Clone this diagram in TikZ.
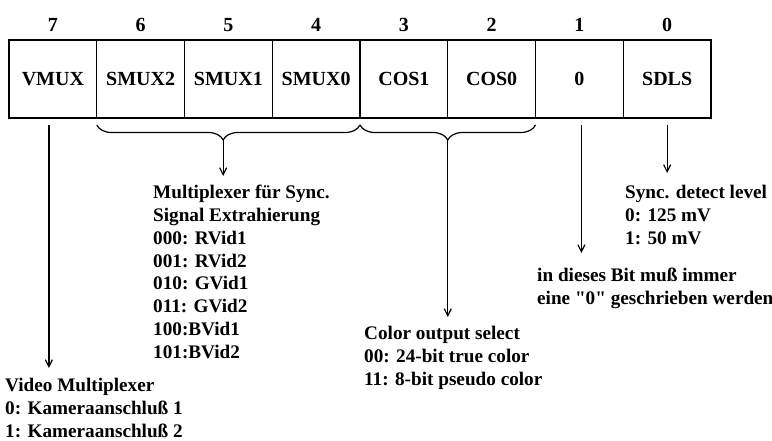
\documentclass[tikz,border=0pt]{standalone}
\usepackage{fontspec}
\setmainfont{Liberation Serif}[Ligatures=TeXOff]
\usepackage{tikz}
\usetikzlibrary{arrows.meta,positioning,decorations.pathreplacing}

\begin{document}
\begin{tikzpicture}[x=1pt, y=-1pt,
  every node/.style={font=\fontsize{20}{22.8}\selectfont\bfseries, inner sep=0pt},
  bitbox/.style={draw, line width=1.3pt, minimum width=87.75pt, minimum height=78pt, outer sep=0pt},
  descr/.style={anchor=north west, align=left, font=\fontsize{19.2}{22.8}\selectfont\bfseries},
  arr/.style={-{Straight Barb[length=7pt,width=7pt]}, line width=1.2pt},
  brc/.style={decorate, decoration={brace, mirror, amplitude=15pt, aspect=#1}, line width=1.2pt}]
  \useasboundingbox (0,0) rectangle (772,441);
  % ---- register bits ----
  \node[bitbox] (b7) at (52.9,79) {VMUX};
  \node[bitbox, right=0pt of b7] (b6) {SMUX2};
  \node[bitbox, right=0pt of b6] (b5) {SMUX1};
  \node[bitbox, right=0pt of b5] (b4) {SMUX0};
  \node[bitbox, right=0pt of b4] (b3) {COS1};
  \node[bitbox, right=0pt of b3] (b2) {COS0};
  \node[bitbox, right=0pt of b2] (b1) {0};
  \node[bitbox, right=0pt of b1] (b0) {SDLS};
  % bit numbers
  \node[above=8pt of b7] (n7) {7};
  \node[above=8pt of b6] (n6) {6};
  \node[above=8pt of b5] (n5) {5};
  \node[above=8pt of b4] (n4) {4};
  \node[above=8pt of b3] (n3) {3};
  \node[above=8pt of b2] (n2) {2};
  \node[above=8pt of b1] (n1) {1};
  \node[above=8pt of b0] (n0) {0};
  % ---- descriptions ----
  \node[descr] (vmuxtxt) at (5,378) {Video Multiplexer\\0: Kameraanschluß 1\\1: Kameraanschluß 2};
  \node[descr] (smuxtxt) at (153,185) {Multiplexer für Sync.\\Signal Extrahierung\\000: RVid1\\001: RVid2\\010: GVid1\\011: GVid2\\100:BVid1\\101:BVid2};
  \node[descr] (costxt) at (364,326) {Color output select\\00: 24-bit true color\\11: 8-bit pseudo color};
  \node[descr] (zerotxt) at (537,268) {in dieses Bit muß immer\\eine "0" geschrieben werden};
  \node[descr] (synctxt) at (625,185) {Sync. detect level\\0: 125 mV\\1: 50 mV};
  % ---- braces ----
  \draw[brc=0.48] ([yshift=-7pt]b6.south west) -- ([yshift=-7pt]b4.south east)
    coordinate[pos=0.48, yshift=-15pt] (smuxtip);
  \draw[brc=0.5] ([yshift=-7pt]b3.south west) -- ([yshift=-7pt]b2.south east)
    coordinate[pos=0.5, yshift=-15pt] (costip);
  % ---- arrows ----
  \draw[arr, shorten <=7pt, shorten >=10pt] ([xshift=-4pt]b7.south) -- ([xshift=-4pt]b7.south |- vmuxtxt.north);
  \draw[arr, shorten >=9pt] (smuxtip) -- (smuxtip |- smuxtxt.north);
  \draw[arr, shorten >=9pt] (costip) -- (costip |- costxt.north);
  \draw[arr, shorten <=7pt, shorten >=15pt] ([xshift=2pt]b1.south) -- ([xshift=2pt]b1.south |- zerotxt.north);
  \draw[arr, shorten <=7pt, shorten >=12pt] (b0.south) -- (b0.south |- synctxt.north);
\end{tikzpicture}
\end{document}
